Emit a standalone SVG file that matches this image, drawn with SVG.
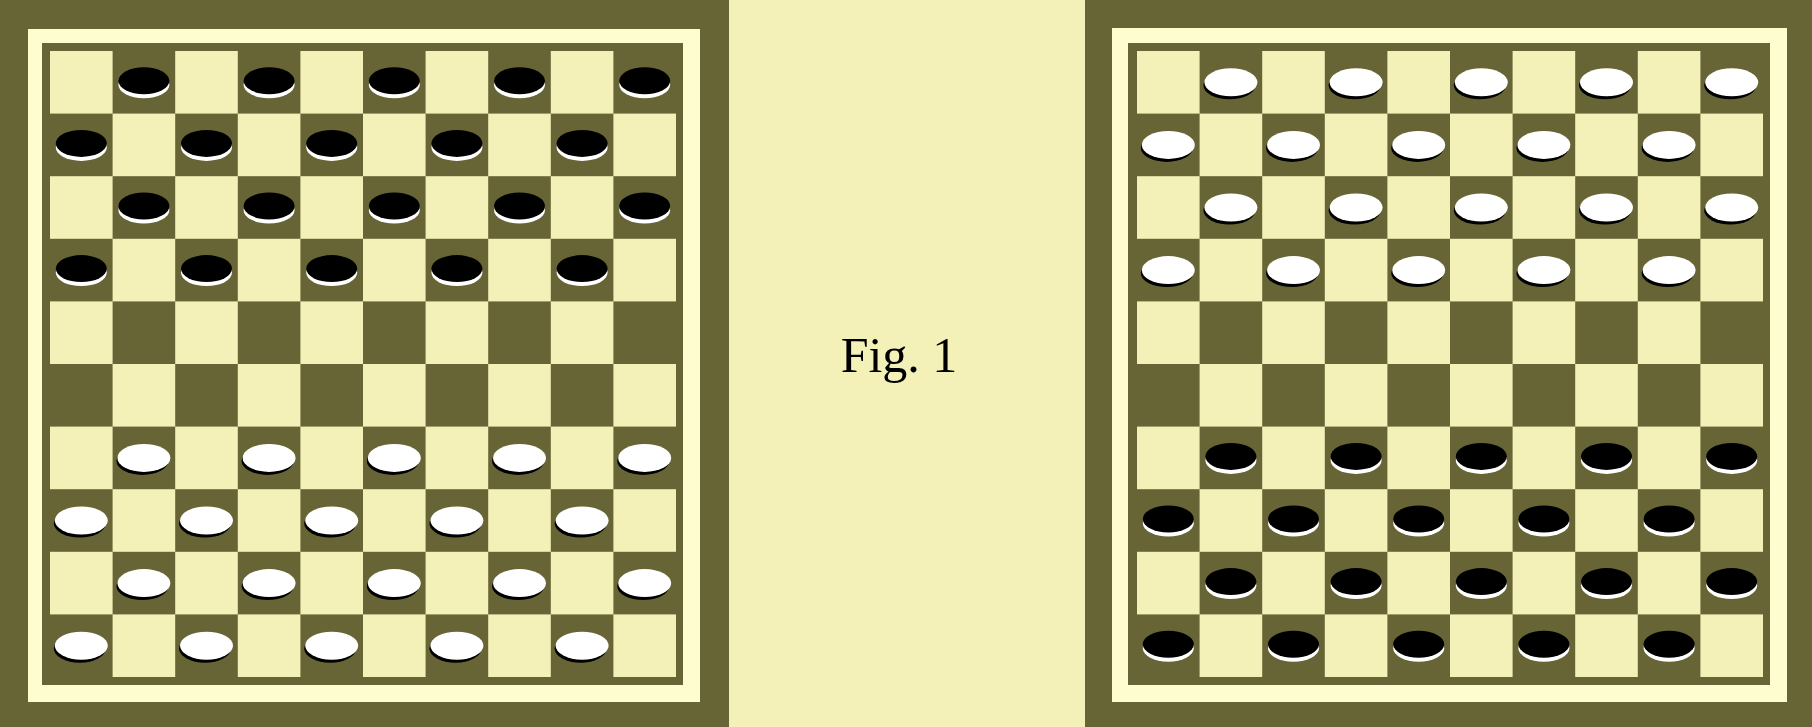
<svg xmlns="http://www.w3.org/2000/svg" xmlns:xlink="http://www.w3.org/1999/xlink" width="1812" height="727" viewBox="0 0 1812 727">
<style>
.dark{fill:#676535}
.frame{fill:#fefdd0}
.light{fill:#f3f0b8}
.caption{font-family:"Liberation Serif","Times New Roman",serif;font-size:50px;fill:#000}
</style>
<defs>
<pattern id="checker" patternUnits="userSpaceOnUse" x="0" y="0" width="125.2" height="125.2">
<rect width="125.2" height="125.2" fill="#f3f0b8"/>
<rect x="62.6" y="0" width="62.6" height="62.6" fill="#676535"/>
<rect x="0" y="62.6" width="62.6" height="62.6" fill="#676535"/>
</pattern>
<g id="bp"><ellipse cy="2.5" rx="25.5" ry="13.5" fill="#ffffff"/><ellipse cy="-1.5" rx="25.5" ry="13.5" fill="#000000"/></g>
<g id="wp"><ellipse cx="-1.5" cy="3" rx="26" ry="14" fill="#000000"/><ellipse cy="0" rx="26.5" ry="14" fill="#ffffff"/></g>
<g id="bOdd"><use xlink:href="#bp" x="93.9"/><use xlink:href="#bp" x="219.1"/><use xlink:href="#bp" x="344.3"/><use xlink:href="#bp" x="469.5"/><use xlink:href="#bp" x="594.7"/></g>
<g id="bEven"><use xlink:href="#bp" x="31.3"/><use xlink:href="#bp" x="156.5"/><use xlink:href="#bp" x="281.7"/><use xlink:href="#bp" x="406.9"/><use xlink:href="#bp" x="532.1"/></g>
<g id="wOdd"><use xlink:href="#wp" x="93.9"/><use xlink:href="#wp" x="219.1"/><use xlink:href="#wp" x="344.3"/><use xlink:href="#wp" x="469.5"/><use xlink:href="#wp" x="594.7"/></g>
<g id="wEven"><use xlink:href="#wp" x="31.3"/><use xlink:href="#wp" x="156.5"/><use xlink:href="#wp" x="281.7"/><use xlink:href="#wp" x="406.9"/><use xlink:href="#wp" x="532.1"/></g>
</defs>
<rect class="dark" x="0" y="0" width="1812" height="727"/>
<rect class="light" x="729" y="0" width="356" height="727"/>

<g id="board-left" transform="translate(50,51)">
<rect class="frame" x="-22" y="-22" width="672" height="673"/>
<rect class="dark" x="-8" y="-8" width="641" height="642"/>
<rect x="0" y="0" width="626" height="626" fill="url(#checker)"/>
<g id="left-black">
<use xlink:href="#bOdd" y="31.3"/>
<use xlink:href="#bEven" y="93.9"/>
<use xlink:href="#bOdd" y="156.5"/>
<use xlink:href="#bEven" y="219.1"/>
</g>
<g id="left-white">
<use xlink:href="#wOdd" y="406.9"/>
<use xlink:href="#wEven" y="469.5"/>
<use xlink:href="#wOdd" y="532.1"/>
<use xlink:href="#wEven" y="594.7"/>
</g>
</g>

<g id="caption">
<text class="caption" x="899" y="372" text-anchor="middle">Fig. 1</text>
</g>

<g id="board-right" transform="translate(1137,51)">
<rect class="frame" x="-25" y="-23" width="675" height="674"/>
<rect class="dark" x="-9" y="-8" width="642" height="642"/>
<rect x="0" y="0" width="626" height="626" fill="url(#checker)"/>
<g id="right-white">
<use xlink:href="#wOdd" y="31.3"/>
<use xlink:href="#wEven" y="93.9"/>
<use xlink:href="#wOdd" y="156.5"/>
<use xlink:href="#wEven" y="219.1"/>
</g>
<g id="right-black">
<use xlink:href="#bOdd" y="406.9"/>
<use xlink:href="#bEven" y="469.5"/>
<use xlink:href="#bOdd" y="532.1"/>
<use xlink:href="#bEven" y="594.7"/>
</g>
</g>
</svg>
